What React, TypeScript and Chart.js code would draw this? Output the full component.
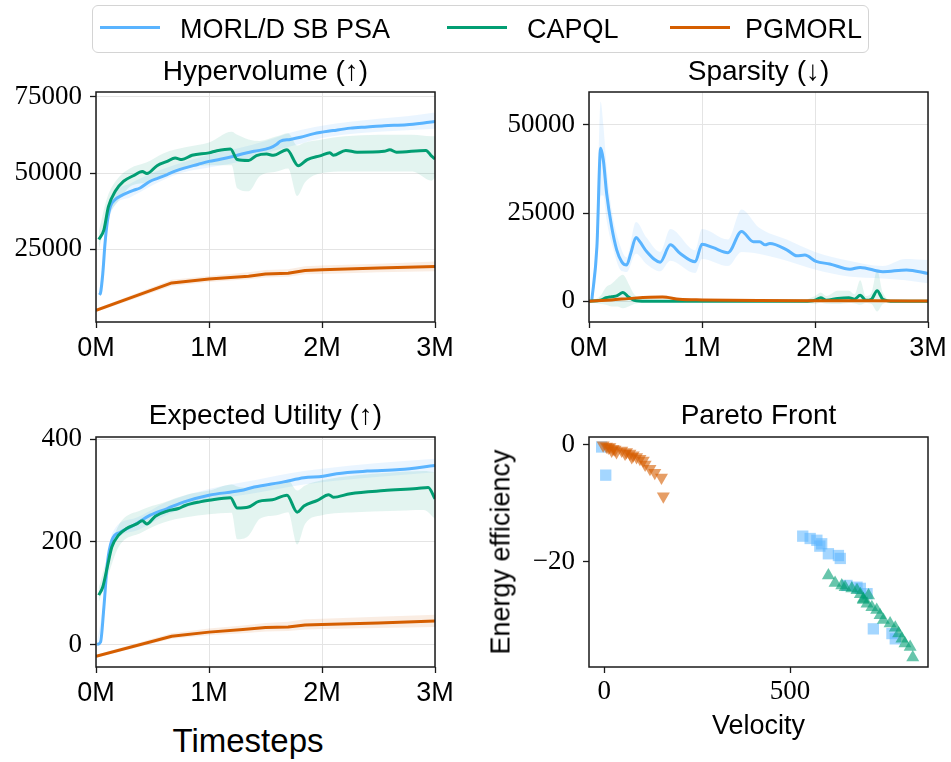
import React, { useEffect, useRef } from "react";
import { Chart, registerables } from "chart.js";
Chart.register(...registerables);

// ---------- series labels & colours ----------
const seriesNames = ["MORL/D SB PSA", "CAPQL", "PGMORL"];
const BLUE = "#5ab4ff";
const GREEN = "#029e73";
const ORANGE = "#d55e00";
const BLUE_BAND = "rgba(90,180,255,0.13)";
const GREEN_BAND = "rgba(2,158,115,0.11)";
const ORANGE_BAND = "rgba(213,94,0,0.11)";

// ---------- Hypervolume (timesteps in millions) ----------
const hvMorlT = [0.03, 0.04, 0.06, 0.08, 0.1, 0.127, 0.17, 0.22, 0.27, 0.33, 0.39, 0.48, 0.55, 0.63, 0.7, 0.78, 0.9, 1.0, 1.1, 1.22, 1.3, 1.4, 1.54, 1.6, 1.63, 1.72, 1.81, 1.93, 2.1, 2.25, 2.4, 2.55, 2.75, 2.9, 3.0];
const hvMorlMean = [10100, 10700, 17000, 27000, 34000, 39000, 41300, 42500, 43400, 44300, 45100, 47300, 48300, 49500, 50600, 51600, 52800, 53800, 54500, 55500, 56300, 57100, 58200, 59400, 60400, 61000, 61700, 62900, 63900, 64700, 65100, 65500, 65800, 66400, 66900];
const hvMorlBandT = [0.03, 0.1, 0.17, 0.3, 0.5, 0.75, 1.0, 1.25, 1.5, 1.75, 2.0, 2.25, 2.5, 2.75, 3.0];
const hvMorlUpper = [11000, 36000, 43500, 46500, 50000, 53300, 56000, 58000, 60500, 63500, 65500, 66800, 67800, 68600, 69800];
const hvMorlLower = [9300, 32000, 39500, 42000, 46000, 50000, 51800, 53500, 56500, 59000, 61500, 62800, 63500, 64000, 64500];

const hvCapqlT = [0.025, 0.07, 0.11, 0.17, 0.245, 0.33, 0.41, 0.45, 0.54, 0.63, 0.7, 0.76, 0.85, 1.0, 1.07, 1.19, 1.25, 1.35, 1.42, 1.51, 1.57, 1.69, 1.79, 1.87, 1.99, 2.07, 2.1, 2.21, 2.31, 2.55, 2.6, 2.66, 2.92, 2.97, 3.0];
const hvCapqlMean = [28200, 31400, 39000, 44000, 47300, 49100, 50500, 49800, 52400, 53800, 54900, 54400, 55800, 56600, 57300, 57900, 54400, 54100, 55700, 56200, 55800, 57600, 52400, 54400, 55700, 56600, 55800, 57400, 56800, 57100, 57600, 56800, 57400, 55500, 54600];
const hvCapqlBandT = [0.025, 0.1, 0.2, 0.3, 0.45, 0.6, 0.8, 1.0, 1.2, 1.25, 1.35, 1.45, 1.6, 1.7, 1.78, 1.85, 2.0, 2.2, 2.5, 2.8, 2.97, 3.0];
const hvCapqlUpper = [31000, 42000, 48500, 51500, 53500, 56500, 58500, 60000, 63500, 62500, 61000, 60500, 62000, 63000, 59000, 60000, 61000, 62000, 62500, 62500, 62000, 62000];
const hvCapqlLower = [25000, 35000, 41000, 45500, 47000, 49500, 51500, 52500, 52500, 45000, 44000, 49000, 50500, 51500, 42500, 47000, 50000, 50500, 50500, 50500, 47500, 48500];

const hvPgmorlT = [0, 0.67, 1.0, 1.35, 1.5, 1.7, 1.85, 2.0, 2.5, 3.0];
const hvPgmorlMean = [5000, 14000, 15300, 16200, 16900, 17200, 18100, 18300, 18900, 19400];
const hvPgmorlUpper = [5500, 15000, 16300, 17500, 18200, 18500, 19500, 19700, 20300, 21000];
const hvPgmorlLower = [4500, 13000, 14300, 15200, 15800, 16000, 16800, 16900, 17500, 17800];

// ---------- Sparsity ----------
const spMorlT = [0.024, 0.07, 0.103, 0.127, 0.156, 0.2, 0.245, 0.29, 0.333, 0.37, 0.416, 0.45, 0.51, 0.63, 0.72, 0.805, 0.94, 1.0, 1.1, 1.23, 1.35, 1.455, 1.51, 1.56, 1.6, 1.75, 1.84, 1.91, 2.01, 2.13, 2.31, 2.4, 2.6, 2.81, 3.0];
const spMorlMean = [0, 15500, 43400, 40000, 30600, 21200, 14600, 11200, 10300, 13600, 18100, 16900, 14100, 11100, 16000, 13600, 11200, 16200, 15200, 13800, 19800, 16900, 16900, 16000, 16400, 14600, 12900, 13100, 11300, 10600, 9100, 9600, 8400, 8900, 7900];
const spMorlBandT = [0.024, 0.07, 0.103, 0.127, 0.156, 0.2, 0.29, 0.333, 0.416, 0.51, 0.63, 0.72, 0.94, 1.0, 1.23, 1.35, 1.5, 1.75, 2.0, 2.3, 2.6, 2.8, 3.0];
const spMorlUpper = [0, 22000, 56600, 50000, 38000, 26000, 14500, 12500, 22500, 18000, 14000, 20500, 14500, 20500, 17500, 26000, 21000, 17500, 14000, 11500, 10000, 12000, 11700];
const spMorlLower = [0, 9000, 30000, 30000, 23000, 16500, 8500, 8300, 13500, 10500, 8500, 11500, 8000, 12000, 10000, 14000, 13500, 11500, 9000, 7000, 6500, 6000, 5100];

const spCapqlT = [0, 0.1, 0.15, 0.2, 0.25, 0.3, 0.35, 0.4, 0.5, 0.8, 1.2, 1.6, 1.9, 2.0, 2.05, 2.1, 2.2, 2.3, 2.35, 2.4, 2.45, 2.5, 2.55, 2.6, 2.7, 3.0];
const spCapqlMean = [0, 300, 1000, 1300, 1600, 2500, 1200, 300, 0, 0, 0, 0, 0, 300, 1000, 300, 800, 1000, 600, 1700, 300, 600, 3000, 600, 0, 0];
const spCapqlUpper = [0, 1500, 4000, 5000, 6500, 7500, 5000, 2000, 500, 200, 200, 200, 400, 1500, 2500, 1500, 3000, 3000, 2000, 6000, 1500, 2500, 8900, 2500, 200, 200];
const spCapqlLower = [0, -800, -1000, -1500, -1500, -2000, -1500, -800, -200, -100, -100, -100, -300, -700, -400, -700, -800, -500, -600, -1000, -500, -800, -2900, -800, -100, -100];

const spPgmorlT = [0, 0.2, 0.4, 0.65, 0.8, 1.0, 1.5, 2.0, 2.5, 3.0];
const spPgmorlMean = [0, 400, 900, 1200, 600, 400, 200, 150, 150, 100];
const spPgmorlUpper = [0, 700, 1300, 1700, 900, 700, 400, 300, 300, 250];
const spPgmorlLower = [0, 100, 500, 700, 300, 150, 50, 0, 0, 0];

// ---------- Expected Utility ----------
const euMorlT = [0.01, 0.04, 0.07, 0.1, 0.14, 0.215, 0.33, 0.48, 0.63, 0.78, 1.0, 1.28, 1.4, 1.66, 1.84, 2.01, 2.13, 2.4, 2.69, 3.0];
const euMorlMean = [0, 4.5, 73, 157, 203, 219, 232, 252, 265, 278, 291, 300, 307, 317, 325, 328, 333, 338, 341, 349];
const euMorlBandT = [0.01, 0.07, 0.14, 0.33, 0.63, 1.0, 1.4, 1.84, 2.4, 3.0];
const euMorlUpper = [3, 85, 215, 245, 278, 303, 320, 338, 352, 362];
const euMorlLower = [-3, 60, 190, 220, 253, 280, 295, 312, 325, 336];

const euCapqlT = [0.024, 0.06, 0.1, 0.14, 0.2, 0.27, 0.36, 0.41, 0.45, 0.525, 0.63, 0.73, 0.79, 0.92, 1.0, 1.19, 1.25, 1.35, 1.44, 1.56, 1.69, 1.78, 1.84, 1.96, 2.06, 2.1, 2.25, 2.55, 2.84, 2.94, 3.0];
const euCapqlMean = [96, 112, 151, 190, 213, 226, 235, 241, 235, 250, 260, 265, 271, 278, 281, 286, 266, 268, 279, 282, 291, 258, 270, 281, 292, 287, 294, 300, 304, 306, 284];
const euCapqlBandT = [0.024, 0.1, 0.2, 0.4, 0.6, 0.8, 1.0, 1.2, 1.25, 1.35, 1.45, 1.6, 1.7, 1.78, 1.85, 2.0, 2.3, 2.6, 2.9, 3.0];
const euCapqlUpper = [110, 170, 232, 262, 277, 292, 300, 312, 308, 305, 306, 312, 320, 300, 310, 320, 330, 335, 338, 336];
const euCapqlLower = [82, 130, 190, 218, 238, 248, 254, 257, 205, 212, 245, 252, 258, 195, 235, 252, 258, 260, 262, 245];

const euPgmorlT = [0, 0.67, 1.0, 1.3, 1.5, 1.7, 1.85, 2.0, 2.5, 3.0];
const euPgmorlMean = [-23, 16, 24, 29, 33, 34, 38, 39, 42, 45.5];
const euPgmorlUpper = [-20, 22, 31, 37, 42, 44, 49, 50, 54, 58];
const euPgmorlLower = [-26, 11, 18, 22, 25, 26, 29, 30, 32, 34];

// ---------- Pareto front ----------
const pfMorlVelocity = [-7, 4, 534, 554, 572, 585, 580, 603, 630, 635, 653, 680, 689, 707, 724, 774, 783];
const pfMorlEnergy = [-0.4, -5.2, -15.6, -16.0, -16.3, -16.9, -17.3, -18.6, -18.9, -19.4, -24.0, -24.3, -24.5, -25.4, -31.4, -32.2, -33.1];
const pfCapqlVelocity = [603, 621, 639, 648, 666, 680, 689, 697, 697, 707, 711, 720, 733, 742, 751, 769, 783, 792, 801, 809, 823, 830];
const pfCapqlEnergy = [-22.3, -23.6, -24.0, -24.3, -24.5, -24.8, -25.5, -26.3, -26.5, -27.1, -25.7, -27.7, -28.2, -29.1, -29.9, -30.5, -31.2, -32.2, -33.1, -33.9, -34.5, -36.3];
const pfPgmorlVelocity = [-3, 6, 11, 15, 20, 24, 29, 33, 47, 56, 60, 69, 74, 78, 87, 96, 105, 110, 123, 136, 154, 159];
const pfPgmorlEnergy = [-0.1, -0.3, -0.5, -0.4, -1.0, -0.7, -0.85, -1.25, -1.0, -1.5, -1.25, -1.5, -2.1, -1.8, -2.1, -2.4, -2.7, -3.4, -4.1, -4.8, -5.6, -8.8];

// ---------- tick values ----------
const timeTicks = [0, 1, 2, 3];
const hvTicks = [25000, 50000, 75000];
const spTicks = [0, 25000, 50000];
const euTicks = [0, 200, 400];
const pfVelocityTicks = [0, 500];
const pfEnergyTicks = [-20, 0];

// ---------- layout ----------
const SERIF = "'Liberation Serif'";
const SANS = "'Liberation Sans'";
const L = 100, T = 12, R = 40, B = 50;
const FRAME = "#1a1a1a";

const pts = (xs: number[], ys: number[]) => xs.map((x, i) => ({ x, y: ys[i] }));

const framePlugin = {
  id: "frame",
  afterDatasetsDraw(chart: any) {
    const { ctx, chartArea: a } = chart;
    ctx.save();
    ctx.strokeStyle = FRAME;
    ctx.lineWidth = 1.5;
    ctx.strokeRect(a.left, a.top, a.right - a.left, a.bottom - a.top);
    ctx.restore();
  },
};

function axis(min: number, max: number, ticks: number[], horizontal: boolean, family: string, fmt: (v: number) => string, grid: boolean, pad: number) {
  return {
    type: "linear",
    min,
    max,
    afterBuildTicks: (s: any) => {
      s.ticks = ticks.map((v) => ({ value: v }));
    },
    afterFit: (s: any) => {
      if (horizontal) {
        s.height = B;
        s.paddingLeft = 0;
        s.paddingRight = 0;
      } else {
        s.width = L;
        s.paddingTop = 0;
        s.paddingBottom = 0;
      }
    },
    border: { display: false },
    grid: {
      display: true,
      drawOnChartArea: grid,
      color: "#e4e4e4",
      lineWidth: 1,
      tickColor: FRAME,
      tickLength: 6,
      tickWidth: 1.3,
    },
    ticks: {
      font: { family, size: 27, style: "normal", weight: "normal" },
      color: "#000",
      padding: pad,
      maxRotation: 0,
      autoSkip: false,
      callback: (v: any) => fmt(Number(v)),
    },
  };
}

const baseOptions = {
  responsive: false,
  maintainAspectRatio: false,
  animation: false,
  events: [],
  layout: { padding: { left: 0, top: T, right: R, bottom: 0 } },
  plugins: { legend: { display: false }, tooltip: { enabled: false }, title: { display: false } },
};

type Series = { t: number[]; mean: number[]; bt: number[]; up: number[]; lo: number[]; color: string; band: string; order: number; smooth: boolean };

function timeConfig(series: Series[], yMin: number, yMax: number, yTicks: number[]) {
  const datasets: any[] = [];
  series.forEach((s, i) => {
    const interp = s.smooth ? { cubicInterpolationMode: "monotone" } : { tension: 0 };
    datasets.push({ label: seriesNames[i] + " upper", data: pts(s.bt, s.up), borderColor: "rgba(0,0,0,0)", borderWidth: 0, pointRadius: 0, fill: false, ...interp, order: 10 + s.order });
    datasets.push({ label: seriesNames[i] + " lower", data: pts(s.bt, s.lo), borderColor: "rgba(0,0,0,0)", borderWidth: 0, pointRadius: 0, fill: "-1", backgroundColor: s.band, ...interp, order: 10 + s.order });
  });
  series.forEach((s, i) => {
    const interp = s.smooth ? { cubicInterpolationMode: "monotone" } : { tension: 0 };
    datasets.push({ label: seriesNames[i], data: pts(s.t, s.mean), borderColor: s.color, borderWidth: 3, pointRadius: 0, fill: false, ...interp, borderJoinStyle: "round", order: s.order });
  });
  return {
    type: "line",
    data: { datasets },
    options: {
      ...baseOptions,
      scales: {
        x: axis(0, 3, timeTicks, true, SANS, (v) => `${v}M`, true, 4),
        y: axis(yMin, yMax, yTicks, false, SERIF, (v) => `${v}`, true, 8),
      },
    },
    plugins: [framePlugin],
  };
}

function hvConfig() {
  return timeConfig(
    [
      { t: hvMorlT, mean: hvMorlMean, bt: hvMorlBandT, up: hvMorlUpper, lo: hvMorlLower, color: BLUE, band: BLUE_BAND, order: 3, smooth: true },
      { t: hvCapqlT, mean: hvCapqlMean, bt: hvCapqlBandT, up: hvCapqlUpper, lo: hvCapqlLower, color: GREEN, band: GREEN_BAND, order: 2, smooth: true },
      { t: hvPgmorlT, mean: hvPgmorlMean, bt: hvPgmorlT, up: hvPgmorlUpper, lo: hvPgmorlLower, color: ORANGE, band: ORANGE_BAND, order: 1, smooth: false },
    ],
    1200,
    76530,
    hvTicks
  );
}

function spConfig() {
  return timeConfig(
    [
      { t: spMorlT, mean: spMorlMean, bt: spMorlBandT, up: spMorlUpper, lo: spMorlLower, color: BLUE, band: BLUE_BAND, order: 3, smooth: true },
      { t: spCapqlT, mean: spCapqlMean, bt: spCapqlT, up: spCapqlUpper, lo: spCapqlLower, color: GREEN, band: GREEN_BAND, order: 2, smooth: true },
      { t: spPgmorlT, mean: spPgmorlMean, bt: spPgmorlT, up: spPgmorlUpper, lo: spPgmorlLower, color: ORANGE, band: ORANGE_BAND, order: 1, smooth: true },
    ],
    -5870,
    59350,
    spTicks
  );
}

function euConfig() {
  return timeConfig(
    [
      { t: euMorlT, mean: euMorlMean, bt: euMorlBandT, up: euMorlUpper, lo: euMorlLower, color: BLUE, band: BLUE_BAND, order: 3, smooth: true },
      { t: euCapqlT, mean: euCapqlMean, bt: euCapqlBandT, up: euCapqlUpper, lo: euCapqlLower, color: GREEN, band: GREEN_BAND, order: 2, smooth: true },
      { t: euPgmorlT, mean: euPgmorlMean, bt: euPgmorlT, up: euPgmorlUpper, lo: euPgmorlLower, color: ORANGE, band: ORANGE_BAND, order: 1, smooth: false },
    ],
    -44,
    404.5,
    euTicks
  );
}

function pfConfig() {
  const fmt = (v: number) => (v < 0 ? "\u2212" + Math.abs(v) : `${v}`);
  return {
    type: "scatter",
    data: {
      datasets: [
        { label: seriesNames[0], data: pts(pfMorlVelocity, pfMorlEnergy), pointStyle: "rect", pointRadius: 8, pointBackgroundColor: "rgba(90,180,255,0.55)", pointBorderWidth: 0, pointBorderColor: "rgba(0,0,0,0)", order: 3 },
        { label: seriesNames[1], data: pts(pfCapqlVelocity, pfCapqlEnergy), pointStyle: "triangle", pointRadius: 7.5, pointBackgroundColor: "rgba(2,158,115,0.6)", pointBorderWidth: 0, pointBorderColor: "rgba(0,0,0,0)", order: 2 },
        { label: seriesNames[2], data: pts(pfPgmorlVelocity, pfPgmorlEnergy), pointStyle: "triangle", pointRotation: 180, pointRadius: 7.5, pointBackgroundColor: "rgba(213,94,0,0.6)", pointBorderWidth: 0, pointBorderColor: "rgba(0,0,0,0)", order: 1 },
      ],
    },
    options: {
      ...baseOptions,
      scales: {
        x: axis(-41, 871, pfVelocityTicks, true, SERIF, fmt, false, 3),
        y: axis(-37.9, 1.3, pfEnergyTicks, false, SERIF, fmt, false, 8),
      },
    },
    plugins: [framePlugin],
  };
}

type Plot = { x: number; y: number; w: number; h: number };
const hvPlot: Plot = { x: 96, y: 92, w: 339, h: 230 };
const spPlot: Plot = { x: 589, y: 92, w: 339, h: 230 };
const euPlot: Plot = { x: 96, y: 437, w: 339, h: 230 };
const pfPlot: Plot = { x: 589, y: 437, w: 339, h: 230 };

function Panel({ plot, make }: { plot: Plot; make: () => any }) {
  const ref = useRef<HTMLCanvasElement | null>(null);
  useEffect(() => {
    const chart = new Chart(ref.current as HTMLCanvasElement, make());
    let alive = true;
    const fonts: any = (document as any).fonts;
    if (fonts && fonts.load) {
      Promise.all([fonts.load("27px 'Liberation Serif'"), fonts.load("27px 'Liberation Sans'")])
        .then(() => {
          if (alive) chart.update();
        })
        .catch(() => {});
    }
    return () => {
      alive = false;
      chart.destroy();
    };
  }, []);
  const w = plot.w + L + R;
  const h = plot.h + T + B;
  return (
    <canvas
      ref={ref}
      width={w}
      height={h}
      style={{ position: "absolute", left: plot.x - L, top: plot.y - T, width: w, height: h }}
    />
  );
}

function Text({ x, baseline, size, children, family = SANS }: any) {
  return (
    <div
      style={{
        position: "absolute",
        left: x,
        top: baseline - 0.8465 * size,
        fontSize: size,
        lineHeight: `${size}px`,
        fontFamily: family,
        whiteSpace: "nowrap",
        transform: "translateX(-50%)",
        color: "#000",
      }}
    >
      {children}
    </div>
  );
}

const legendColors = [BLUE, GREEN, ORANGE];
const legendLineX = [100, 447, 670];
const legendTextX = [180, 527, 745];

export default function App() {
  return (
    <div style={{ position: "absolute", left: 0, top: 0, width: 951, height: 762, overflow: "hidden", background: "#fff" }}>
      <div style={{ position: "absolute", left: -500, top: -100, fontFamily: SERIF, fontSize: 27 }}>0123456789−</div>
      <Panel plot={hvPlot} make={hvConfig} />
      <Panel plot={spPlot} make={spConfig} />
      <Panel plot={euPlot} make={euConfig} />
      <Panel plot={pfPlot} make={pfConfig} />

      <Text x={265.5} baseline={81} size={28}>Hypervolume (↑)</Text>
      <Text x={758.5} baseline={81} size={28}>Sparsity (↓)</Text>
      <Text x={265.5} baseline={425} size={28}>Expected Utility (↑)</Text>
      <Text x={758.5} baseline={425} size={28}>Pareto Front</Text>
      <Text x={758.5} baseline={735} size={27}>Velocity</Text>
      <Text x={248} baseline={752} size={33}>Timesteps</Text>
      <div
        style={{
          position: "absolute",
          left: 501,
          top: 552,
          fontSize: 27,
          lineHeight: "27px",
          fontFamily: SANS,
          whiteSpace: "nowrap",
          transform: "translate(-50%, -50%) rotate(-90deg)",
        }}
      >
        Energy efficiency
      </div>

      <div
        style={{
          position: "absolute",
          left: 92,
          top: 5,
          width: 777,
          height: 48,
          boxSizing: "border-box",
          border: "1.5px solid #d4d4d4",
          borderRadius: 6,
          background: "#fff",
        }}
      />
      {seriesNames.map((name, i) => (
        <React.Fragment key={name}>
          <div style={{ position: "absolute", left: legendLineX[i], top: 26, width: 60, height: 3, background: legendColors[i] }} />
          <div
            style={{
              position: "absolute",
              left: legendTextX[i],
              top: 38.5 - 0.8465 * 27,
              fontSize: 27,
              lineHeight: "27px",
              fontFamily: SANS,
              whiteSpace: "nowrap",
            }}
          >
            {name}
          </div>
        </React.Fragment>
      ))}
    </div>
  );
}
